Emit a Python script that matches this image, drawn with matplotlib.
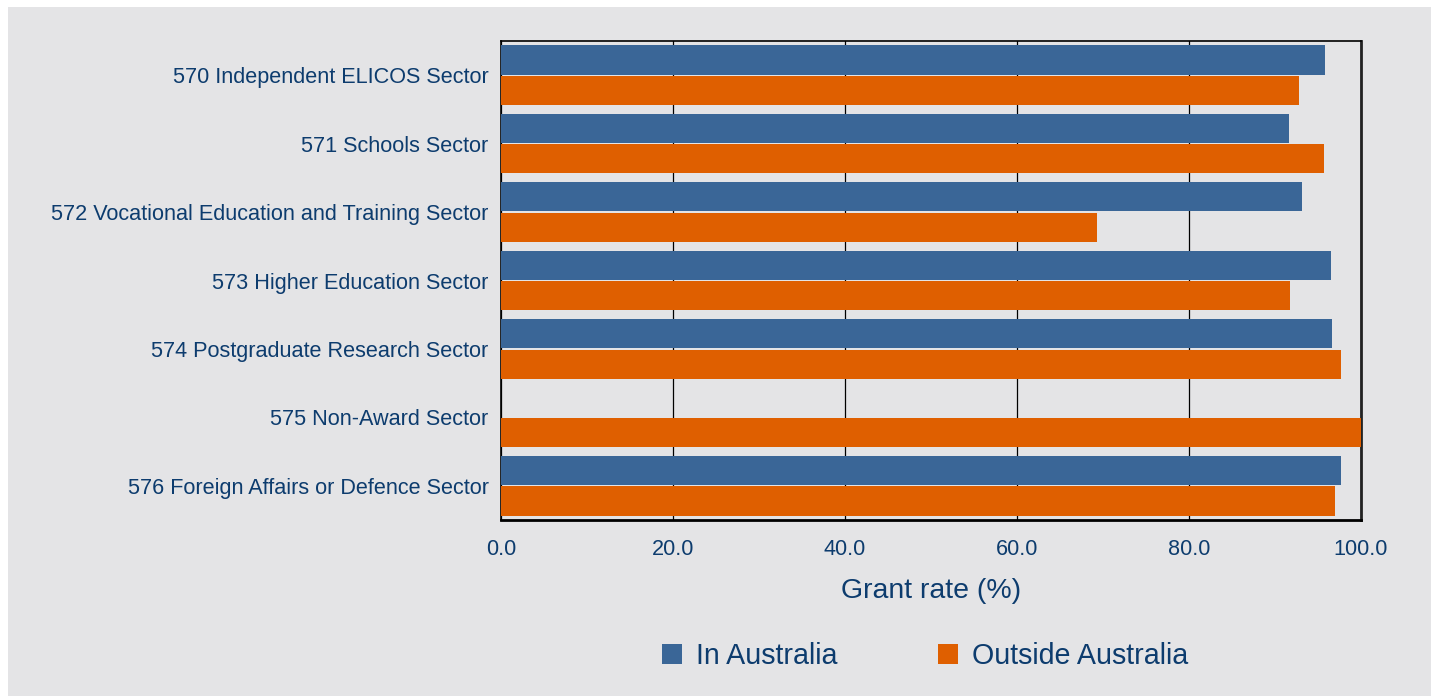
import matplotlib
matplotlib.use("Agg")
import matplotlib.pyplot as plt
import numpy as np
from matplotlib.patches import Rectangle

categories = [
    "570 Independent ELICOS Sector",
    "571 Schools Sector",
    "572 Vocational Education and Training Sector",
    "573 Higher Education Sector",
    "574 Postgraduate Research Sector",
    "575 Non-Award Sector",
    "576 Foreign Affairs or Defence Sector",
]
in_australia = [95.8, 91.6, 93.1, 96.5, 96.6, 0.0, 97.7]
outside_australia = [92.8, 95.7, 69.3, 91.7, 97.7, 100.0, 97.0]
xticks = [0, 20, 40, 60, 80, 100]
series_names = ["In Australia", "Outside Australia"]

BLUE = "#3a6697"
ORANGE = "#df5f00"
BG = "#e4e4e6"
TXT = "#0d3c6e"

plt.rcParams['font.family'] = ['Liberation Sans', 'DejaVu Sans']

W, H = 1431, 696
fig = plt.figure(figsize=(W / 100, H / 100), dpi=100)
fig.patch.set_facecolor("white")
fig.patches.append(Rectangle((8 / W, 0), 1 - 8 / W, 1 - 7 / H, transform=fig.transFigure,
                             facecolor=BG, edgecolor="none", zorder=-10))

ax = fig.add_axes([501 / W, 1 - 520 / H, (1361 - 501) / W, (520 - 41) / H])
ax.set_facecolor(BG)

y = np.arange(len(categories))
h = 0.425
gap = 0.02
ax.barh(y - h / 2 - gap / 2, in_australia, height=h, color=BLUE, label=series_names[0], zorder=3)
ax.barh(y + h / 2 + gap / 2, outside_australia, height=h, color=ORANGE, label=series_names[1], zorder=3)

ax.set_ylim(6.5, -0.5)
ax.set_xlim(0, 100)
ax.set_xticks(xticks)
ax.set_xticklabels([f"{v:.1f}" for v in xticks])
ax.set_yticks(y)
ax.set_yticklabels(categories)
ax.tick_params(axis='y', length=0, pad=9, labelsize=15.6, labelcolor=TXT)
ax.tick_params(axis='x', length=0, pad=14, labelsize=15.6, labelcolor=TXT)
ax.xaxis.grid(True, color="black", linewidth=0.9, zorder=1)
ax.set_axisbelow(True)
for s in ["left", "bottom", "top"]:
    ax.spines[s].set_color("black")
    ax.spines[s].set_linewidth(1.2)
ax.spines["right"].set_color("#222222")
ax.spines["right"].set_linewidth(2.0)
ax.spines["bottom"].set_linewidth(2.0)

ax.set_xlabel("Grant rate (%)", fontsize=20.5, color=TXT, labelpad=13)

leg = fig.legend(loc="center", bbox_to_anchor=(925 / W, 1 - 656 / H), ncol=2,
                 frameon=False, fontsize=20.6, labelcolor=TXT, handlelength=0.7,
                 handleheight=0.7, handletextpad=0.49, columnspacing=3.5)

fig.savefig("out.png", dpi=100, facecolor=fig.get_facecolor())
